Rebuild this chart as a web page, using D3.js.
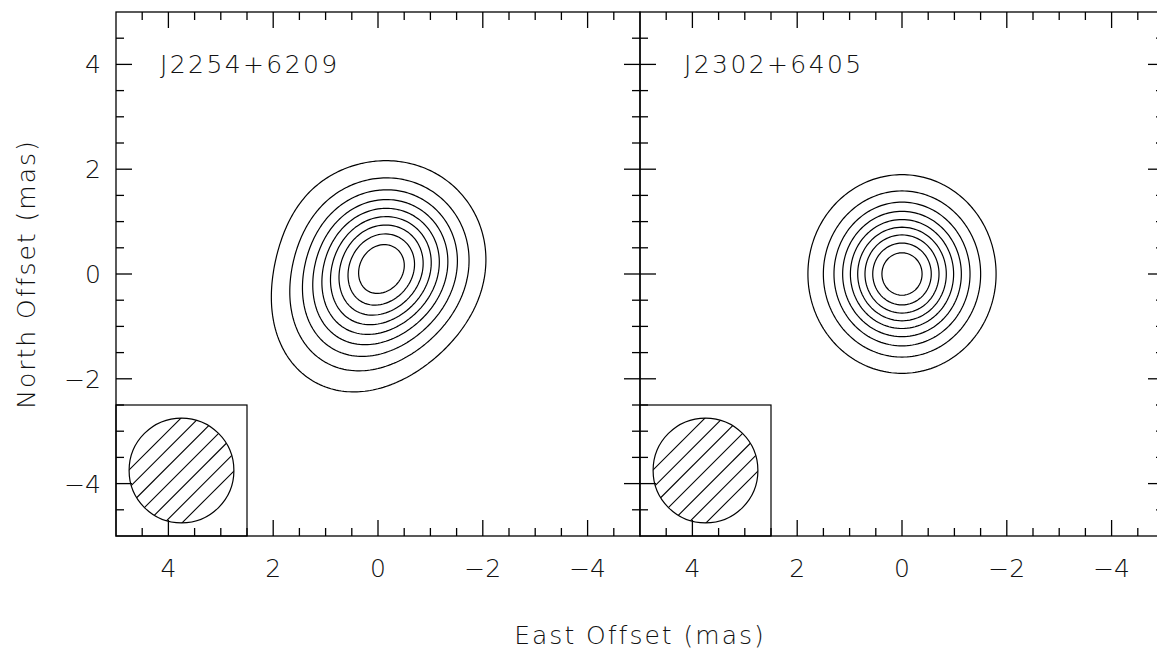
<!DOCTYPE html>
<html>
<head>
<meta charset="utf-8">
<script src="https://cdn.jsdelivr.net/npm/d3@7"></script>
<style>
body { margin: 0; background: #fff; }
text { font-family: "DejaVu Sans", sans-serif; font-weight: 200; fill: #111; }
</style>
</head>
<body>
<svg id="chart" width="1157" height="652"></svg>
<script>
// source names, one panel each
const sourceNames = ["J2254+6209", "J2302+6405"];

// gaussian components of each map (mas)
const compSource = [0, 0, 0, 0, 1];
const compX = [-0.22, 0.4, 0.9, 1.2, 0.0];
const compY = [0.32, -0.6, -1.5, 1.3, 0.0];
const compFlux = [1.0, 0.45, 0.05, 0.025, 1.0];
const compMaj = [2.1, 2.1, 2.2, 2.0, 2.08];
const compMin = [2.1, 2.1, 2.2, 2.0, 1.97];
const compPA = [0, 0, 0, 0, 0];

// contour levels, fraction of the peak
const contourLevels = [0.1, 0.2, 0.3, 0.4, 0.5, 0.6, 0.7, 0.8, 0.9];

// restoring beam (mas) and the box it sits in
const beamX = 3.75, beamY = -3.75, beamMaj = 2.0, beamMin = 2.0;
const beamBox = [5, 2.5, -5, -2.5];

// axes
const axisDomain = [5, -5];
const majorTicks = [4, 2, 0, -2, -4];
const minorTicks = [4.5, 3.5, 3, 2.5, 1.5, 1, 0.5, -0.5, -1, -1.5, -2.5, -3, -3.5, -4.5];

const svg = d3.select("#chart");
const plotTop = 12, size = 524;
const panelLeft = [116, 640];
const majLen = 16, minLen = 8;
const hatchStep = 0.238;

const y = d3.scaleLinear().domain([5, -5]).range([plotTop, plotTop + size]);

// grid for contouring
const step = 0.05;
const n = Math.round(10 / step) + 1;
const k = 4 * Math.LN2;

function mapGrid(s) {
  const vals = new Float64Array(n * n);
  for (let j = 0; j < n; j++) {
    const gy = 5 - j * step;
    for (let i = 0; i < n; i++) {
      const gx = -5 + i * step;
      let v = 0;
      compSource.forEach((src, c) => {
        if (src !== s) return;
        const pa = compPA[c] * Math.PI / 180;
        const dx = gx - compX[c], dy = gy - compY[c];
        const u = dx * Math.sin(pa) + dy * Math.cos(pa);
        const w = dx * Math.cos(pa) - dy * Math.sin(pa);
        v += compFlux[c] * Math.exp(-k * ((u / compMaj[c]) ** 2 + (w / compMin[c]) ** 2));
      });
      vals[j * n + i] = v;
    }
  }
  return vals;
}

sourceNames.forEach((name, s) => {
  const x = d3.scaleLinear().domain(axisDomain).range([panelLeft[s], panelLeft[s] + size]);
  const g = svg.append("g");

  svg.append("clipPath").attr("id", "clip" + s)
    .append("rect").attr("x", panelLeft[s]).attr("y", plotTop).attr("width", size).attr("height", size);

  // contours
  const vals = mapGrid(s);
  const peak = d3.max(vals);
  const contours = d3.contours().size([n, n]).thresholds(contourLevels.map(l => l * peak))(vals);
  const proj = d3.geoTransform({
    point: function(px, py) {
      this.stream.point(x(-5 + (px - 0.5) * step), y(5 - (py - 0.5) * step));
    }
  });
  const path = d3.geoPath(proj);
  g.append("g").attr("clip-path", "url(#clip" + s + ")")
    .selectAll("path").data(contours).join("path")
    .attr("d", path)
    .attr("fill", "none")
    .attr("stroke", "#000")
    .attr("stroke-width", 1.2);

  // beam box and hatched beam
  g.append("rect")
    .attr("x", x(beamBox[0])).attr("y", y(beamBox[3]))
    .attr("width", x(beamBox[1]) - x(beamBox[0]))
    .attr("height", y(beamBox[2]) - y(beamBox[3]))
    .attr("fill", "#fff").attr("stroke", "#000").attr("stroke-width", 1.2);

  const cx = x(beamX), cy = y(beamY);
  const rx = Math.abs(x(beamMaj / 2) - x(0)), ry = Math.abs(y(beamMin / 2) - y(0));
  svg.append("clipPath").attr("id", "beam" + s)
    .append("ellipse").attr("cx", cx).attr("cy", cy).attr("rx", rx).attr("ry", ry);
  const hs = Math.abs(x(hatchStep) - x(0));
  g.append("g").attr("clip-path", "url(#beam" + s + ")")
    .selectAll("line").data(d3.range(-3, 4)).join("line")
    .attr("x1", d => cx + d * hs / Math.SQRT2 - 80)
    .attr("y1", d => cy + d * hs / Math.SQRT2 + 80)
    .attr("x2", d => cx + d * hs / Math.SQRT2 + 80)
    .attr("y2", d => cy + d * hs / Math.SQRT2 - 80)
    .attr("stroke", "#000").attr("stroke-width", 1.1);
  g.append("ellipse").attr("cx", cx).attr("cy", cy).attr("rx", rx).attr("ry", ry)
    .attr("fill", "none").attr("stroke", "#000").attr("stroke-width", 1.2);

  // frame
  g.append("rect").attr("x", panelLeft[s]).attr("y", plotTop).attr("width", size).attr("height", size)
    .attr("fill", "none").attr("stroke", "#000").attr("stroke-width", 1.3);

  // ticks on all four sides
  const ticks = majorTicks.map(t => ({ v: t, len: majLen })).concat(minorTicks.map(t => ({ v: t, len: minLen })));
  const tk = g.append("g").attr("stroke", "#000").attr("stroke-width", 1.3);
  ticks.forEach(t => {
    tk.append("line").attr("x1", x(t.v)).attr("x2", x(t.v)).attr("y1", plotTop).attr("y2", plotTop + t.len);
    tk.append("line").attr("x1", x(t.v)).attr("x2", x(t.v)).attr("y1", plotTop + size).attr("y2", plotTop + size - t.len);
    tk.append("line").attr("y1", y(t.v)).attr("y2", y(t.v)).attr("x1", panelLeft[s]).attr("x2", panelLeft[s] + t.len);
    tk.append("line").attr("y1", y(t.v)).attr("y2", y(t.v)).attr("x1", panelLeft[s] + size).attr("x2", panelLeft[s] + size - t.len);
  });

  // x tick labels
  g.selectAll(".xl").data(majorTicks).join("text")
    .attr("x", d => x(d)).attr("y", 577)
    .attr("text-anchor", "middle").attr("font-size", 25)
    .text(d => d < 0 ? "\u2212" + (-d) : d);

  // y tick labels only on the first panel
  if (s === 0) {
    g.selectAll(".yl").data(majorTicks).join("text")
      .attr("x", panelLeft[s] - 15).attr("y", d => y(d) + 9)
      .attr("text-anchor", "end").attr("font-size", 25)
      .text(d => d < 0 ? "\u2212" + (-d) : d);
  }

  // source name
  g.append("text").attr("x", panelLeft[s] + 44).attr("y", 73)
    .attr("font-size", 25).attr("letter-spacing", 2.4)
    .text(name);
});

svg.append("text").attr("x", 640).attr("y", 644).attr("text-anchor", "middle")
  .attr("font-size", 25).attr("letter-spacing", 2)
  .text("East Offset (mas)");
svg.append("text").attr("transform", "translate(35,274) rotate(-90)").attr("text-anchor", "middle")
  .attr("font-size", 25).attr("letter-spacing", 2)
  .text("North Offset (mas)");
</script>
</body>
</html>
